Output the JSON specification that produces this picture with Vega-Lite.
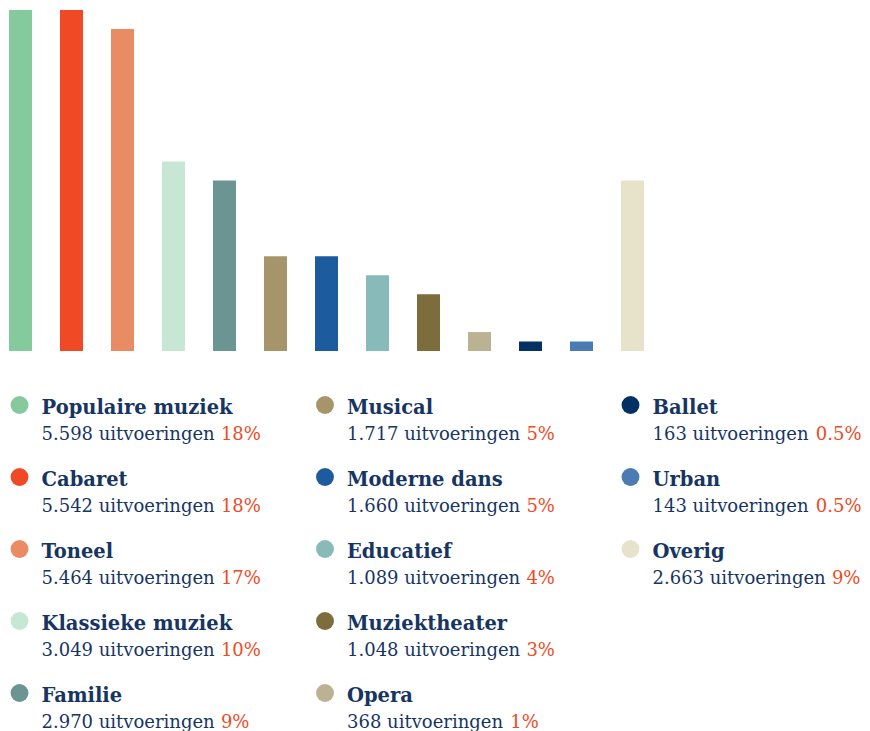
{
  "$schema": "https://vega.github.io/schema/vega-lite/v6.json",
  "padding": {"top": 10, "left": 0, "right": 0, "bottom": 0},
  "spacing": 0,
  "config": {"view": {"stroke": null}, "font": "DejaVu Serif"},
  "resolve": {"scale": {"x": "independent", "y": "independent", "color": "independent", "xOffset": "independent"}},
  "data": {"values": [
    {"genre": "Populaire muziek", "uitvoeringen": 5598, "pct": 18, "order": 1},
    {"genre": "Cabaret", "uitvoeringen": 5542, "pct": 18, "order": 2},
    {"genre": "Toneel", "uitvoeringen": 5464, "pct": 17, "order": 3},
    {"genre": "Klassieke muziek", "uitvoeringen": 3049, "pct": 10, "order": 4},
    {"genre": "Familie", "uitvoeringen": 2970, "pct": 9, "order": 5},
    {"genre": "Musical", "uitvoeringen": 1717, "pct": 5, "order": 6},
    {"genre": "Moderne dans", "uitvoeringen": 1660, "pct": 5, "order": 7},
    {"genre": "Educatief", "uitvoeringen": 1089, "pct": 4, "order": 8},
    {"genre": "Muziektheater", "uitvoeringen": 1048, "pct": 3, "order": 9},
    {"genre": "Opera", "uitvoeringen": 368, "pct": 1, "order": 10},
    {"genre": "Ballet", "uitvoeringen": 163, "pct": 0.5, "order": 11},
    {"genre": "Urban", "uitvoeringen": 143, "pct": 0.5, "order": 12},
    {"genre": "Overig", "uitvoeringen": 2663, "pct": 9, "order": 13}
  ]},
  "vconcat": [
    {
      "width": 653,
      "height": 341,
      "mark": {"type": "bar"},
      "encoding": {
        "x": {"field": "genre", "type": "nominal", "sort": {"field": "order"}, "axis": null,
              "scale": {"type": "band", "paddingInner": 0.549, "paddingOuter": 0.176}},
        "y": {"field": "pct", "type": "quantitative", "axis": null,
              "scale": {"domain": [0, 18], "nice": false, "zero": true}},
        "color": {"field": "genre", "type": "nominal", "legend": null,
          "scale": {
            "domain": ["Populaire muziek", "Cabaret", "Toneel", "Klassieke muziek", "Familie", "Musical", "Moderne dans", "Educatief", "Muziektheater", "Opera", "Ballet", "Urban", "Overig"],
            "range": ["#84ca9c", "#ef4a25", "#e98b63", "#c5e7d4", "#6a9593", "#a6956a", "#1c5b9e", "#87bab9", "#7d6c3c", "#bbb193", "#033163", "#4a7cb3", "#e7e2ca"]
          }}
      }
    },
    {
      "width": 870,
      "height": 380,
      "transform": [
        {"calculate": "floor((datum.order - 1) / 5)", "as": "col"},
        {"calculate": "(datum.order - 1) % 5", "as": "row"},
        {"calculate": "replace(format(datum.uitvoeringen, ','), ',', '.')", "as": "countText"},
        {"calculate": "datum.countText + ' uitvoeringen'", "as": "line"},
        {"calculate": "length(datum.countText)", "as": "nchar"},
        {"calculate": "datum.pct + '%'", "as": "pctText"}
      ],
      "encoding": {
        "x": {"field": "col", "type": "ordinal", "axis": null, "bandPosition": 0,
              "scale": {"type": "band", "domain": [0, 1, 2], "range": [0, 916.5], "paddingInner": 0, "paddingOuter": 0}},
        "y": {"field": "row", "type": "quantitative", "axis": null,
              "scale": {"domain": [0, 4], "range": [54, 342], "nice": false, "zero": false}}
      },
      "layer": [
        {
          "mark": {"type": "point", "filled": true, "shape": "circle", "size": 320, "opacity": 1, "xOffset": 19.5},
          "encoding": {
            "color": {"field": "genre", "type": "nominal", "legend": null,
              "scale": {
                "domain": ["Populaire muziek", "Cabaret", "Toneel", "Klassieke muziek", "Familie", "Musical", "Moderne dans", "Educatief", "Muziektheater", "Opera", "Ballet", "Urban", "Overig"],
                "range": ["#84ca9c", "#ef4a25", "#e98b63", "#c5e7d4", "#6a9593", "#a6956a", "#1c5b9e", "#87bab9", "#7d6c3c", "#bbb193", "#033163", "#4a7cb3", "#e7e2ca"]
              }}
          }
        },
        {
          "mark": {"type": "text", "align": "left", "baseline": "alphabetic", "dx": 41.5, "dy": 9,
                   "font": "DejaVu Serif", "fontWeight": "bold", "fontSize": 19.5, "color": "#173563"},
          "encoding": {"text": {"field": "genre"}}
        },
        {
          "mark": {"type": "text", "align": "left", "baseline": "alphabetic", "dx": 41.5, "dy": 35,
                   "font": "DejaVu Serif", "fontSize": 18, "color": "#173563"},
          "encoding": {"text": {"field": "line"}}
        },
        {
          "mark": {"type": "text", "align": "left", "baseline": "alphabetic", "dy": 35,
                   "font": "DejaVu Serif", "fontSize": 18, "color": "#ef4a25"},
          "encoding": {
            "text": {"field": "pctText"},
            "xOffset": {"field": "nchar", "type": "quantitative",
                        "scale": {"domain": [3, 5], "range": [204.8, 220.9], "zero": false, "nice": false}}
          }
        }
      ]
    }
  ]
}
